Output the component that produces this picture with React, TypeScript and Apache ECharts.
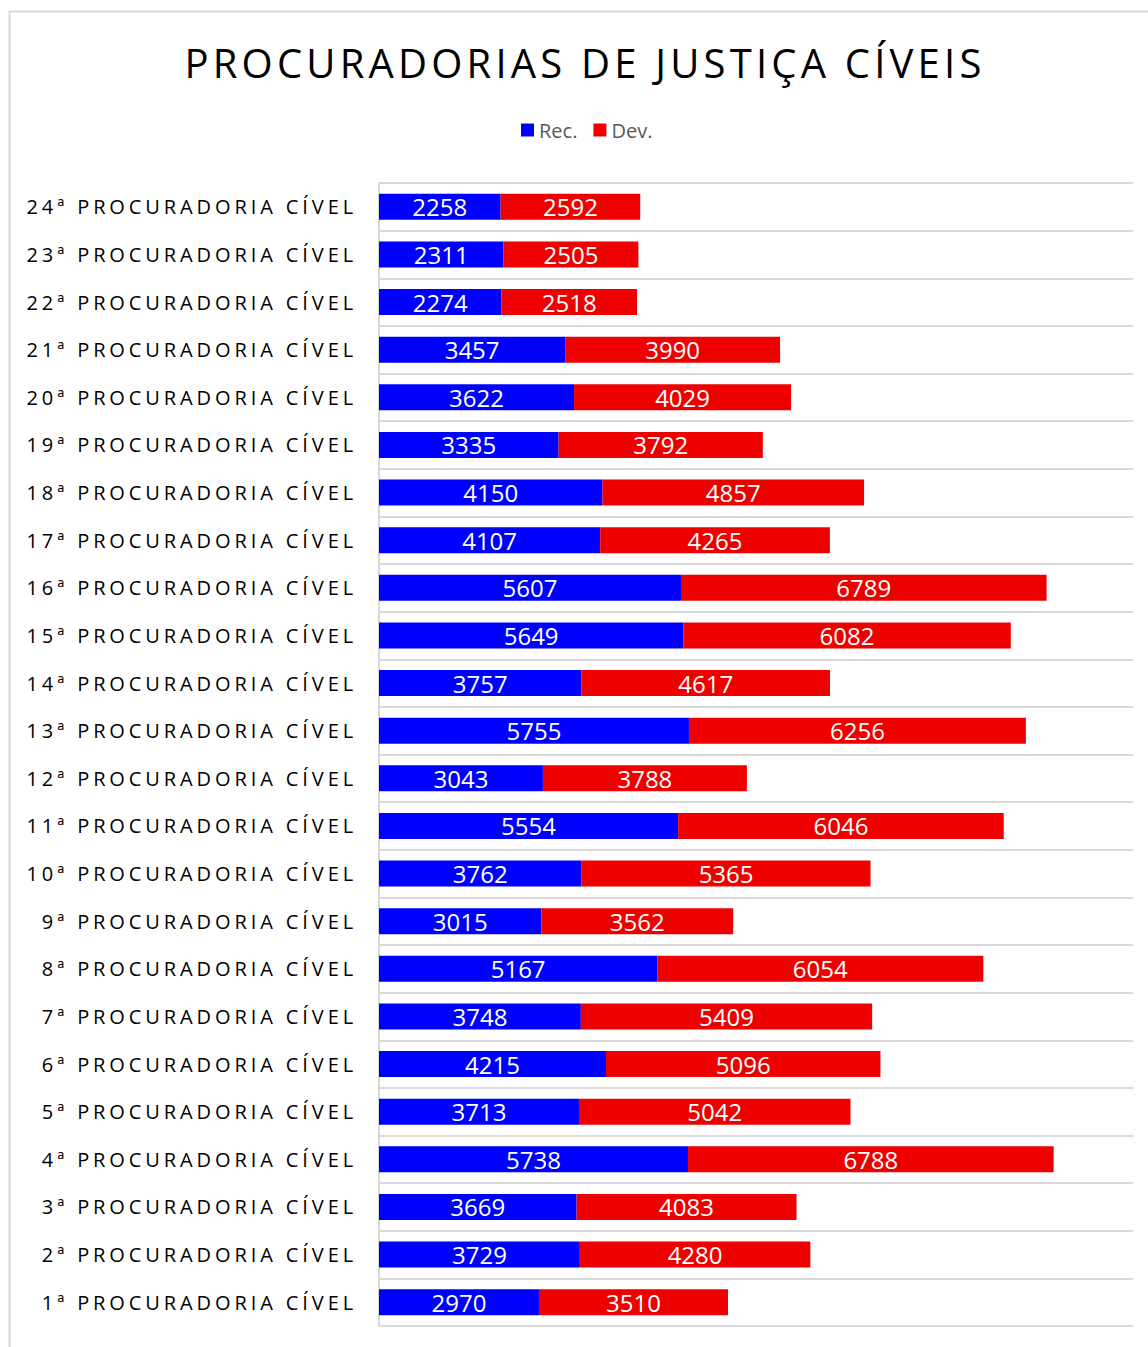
import React, { useEffect, useRef } from "react";
import * as echarts from "echarts";

const TITLE = "PROCURADORIAS DE JUSTIÇA CÍVEIS";
const SERIES_NAMES = ["Rec.", "Dev."];
// bottom (1ª) to top (24ª)
const categories = Array.from({ length: 24 }, (_, i) => `${i + 1}ª PROCURADORIA CÍVEL`);
const recValues = [
  2970, 3729, 3669, 5738, 3713, 4215, 3748, 5167, 3015, 3762, 5554, 3043,
  5755, 3757, 5649, 5607, 4107, 4150, 3335, 3622, 3457, 2274, 2311, 2258,
];
const devValues = [
  3510, 4280, 4083, 6788, 5042, 5096, 5409, 6054, 3562, 5365, 6046, 3788,
  6256, 4617, 6082, 6789, 4265, 4857, 3792, 4029, 3990, 2518, 2505, 2592,
];
const COLORS = ["#0000FF", "#EE0000"];

export default function App() {
  const ref = useRef<HTMLDivElement>(null);
  useEffect(() => {
    if (!ref.current) return;
    const chart = echarts.init(ref.current, undefined, { renderer: "svg" });
    const font = "'Open Sans', sans-serif";
    chart.setOption({
      animation: false,
      backgroundColor: "#ffffff",
      graphic: [
        {
          type: "rect",
          shape: { x: 9.5, y: 11.5, width: 1400, height: 1600 },
          style: { fill: "none", stroke: "#d9d9d9", lineWidth: 2 },
          silent: true,
        },
        {
          type: "text",
          x: 585,
          y: 62,
          style: {
            text: TITLE,
            fontSize: 40.01,
            fontFamily: font,
            fill: "#000000",
            textAlign: "center",
            textVerticalAlign: "middle",
          },
        },
      ],
      legend: {
        data: SERIES_NAMES,
        left: 516,
        top: 115,
        itemWidth: 13,
        itemHeight: 13,
        itemGap: 16,
        icon: "rect",
        textStyle: { fontFamily: font, fontSize: 20, color: "#595959" },
      },
      grid: { left: 379, right: 15, top: 183, bottom: 21, containLabel: false },
      xAxis: {
        type: "value",
        min: 0,
        max: 14000,
        axisLabel: { show: false },
        axisLine: { show: false },
        axisTick: { show: false },
        splitLine: { show: false },
      },
      yAxis: {
        type: "category",
        data: categories,
        axisLine: { show: true, lineStyle: { color: "#d9d9d9", width: 2 } },
        axisTick: { show: false },
        splitLine: { show: true, lineStyle: { color: "#d9d9d9", width: 2 } },
        axisLabel: {
          interval: 0,
          margin: 22,
          fontSize: 20.01,
          fontFamily: font,
          color: "#000000",
        },
      },
      series: [
        {
          name: SERIES_NAMES[0],
          type: "bar",
          stack: "total",
          barWidth: 26,
          data: recValues,
          itemStyle: { color: COLORS[0] },
          label: { show: true, position: "inside", color: "#ffffff", fontSize: 24, fontFamily: font },
        },
        {
          name: SERIES_NAMES[1],
          type: "bar",
          stack: "total",
          barWidth: 26,
          data: devValues,
          itemStyle: { color: COLORS[1] },
          label: { show: true, position: "inside", color: "#ffffff", fontSize: 24, fontFamily: font },
        },
      ],
    });
    return () => chart.dispose();
  }, []);
  return (
    <>
      <style>{`
        #chartbox text[style*="20.01px"] { letter-spacing: 3.9px; }
        #chartbox text[style*="40.01px"] { letter-spacing: 4.2px; }
      `}</style>
      <div
        id="chartbox"
        ref={ref}
        style={{ position: "absolute", left: 0, top: 0, width: 1148, height: 1347 }}
      />
    </>
  );
}
